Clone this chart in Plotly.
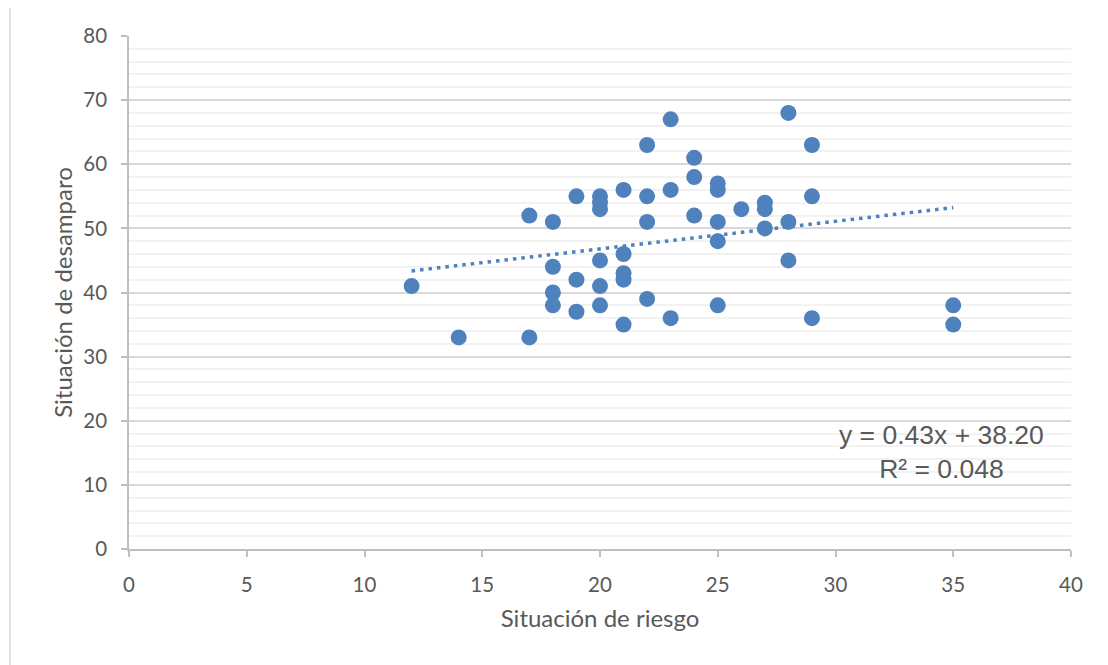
import numpy as np
import plotly.graph_objects as go

# Data
riesgo = [12, 14, 17, 17, 18, 18, 18, 18, 19, 19, 19,
          20, 20, 20, 20, 20, 20, 21, 21, 21, 21, 21,
          22, 22, 22, 22, 23, 23, 23, 24, 24, 24,
          25, 25, 25, 25, 25, 26, 27, 27, 27, 28, 28, 28,
          29, 29, 29, 35, 35]
desamparo = [41, 33, 52, 33, 51, 44, 40, 38, 55, 42, 37,
             55, 54, 53, 45, 41, 38, 56, 46, 43, 42, 35,
             63, 55, 51, 39, 67, 56, 36, 61, 58, 52,
             57, 56, 51, 48, 38, 53, 54, 53, 50, 68, 51, 45,
             63, 55, 36, 38, 35]

slope = 0.43
intercept = 38.20
r2 = 0.048

x_title = "Situación de riesgo"
y_title = "Situación de desamparo"

color = "#4f81bd"

fig = go.Figure()

tx = np.array([min(riesgo), max(riesgo)], dtype=float)
fig.add_trace(go.Scatter(
    x=tx, y=slope * tx + intercept, mode="lines",
    line=dict(color=color, width=3.5, dash="3.5px,5px"),
    hoverinfo="skip", showlegend=False))

fig.add_trace(go.Scatter(
    x=riesgo, y=desamparo, mode="markers",
    marker=dict(color=color, size=16, line=dict(width=0)),
    showlegend=False))

fig.add_annotation(
    x=34.5, y=15.2, xref="x", yref="y",
    text=f"y = {slope:.2f}x + {intercept:.2f}<br>R² = {r2:.3f}",
    showarrow=False, align="center",
    font=dict(family="Liberation Sans, Arial", size=26.5, color="#595959"))

# chart border
fig.add_shape(type="rect", xref="paper", yref="paper",
              x0=(10 - 129) / 942, x1=(1125 - 129) / 942,
              y0=(549 - 680) / 513, y1=(549 - 6) / 513,
              line=dict(color="#d9d9d9", width=1.5), fillcolor="rgba(0,0,0,0)",
              layer="below")

axis_font = dict(family="Lato, Calibri, sans-serif", size=20.5, color="#595959")
title_font = dict(family="Lato, Calibri, sans-serif", size=24, color="#595959")

fig.update_layout(
    width=1100, height=657,
    margin=dict(l=121, r=37, t=28, b=116),
    paper_bgcolor="white", plot_bgcolor="white",
    font=axis_font,
    xaxis=dict(
        range=[0, 40], dtick=5, tick0=0,
        showgrid=False, zeroline=False,
        showline=True, linecolor="#bfbfbf", linewidth=1.5,
        ticks="outside", ticklen=6, tickcolor="#bfbfbf", tickwidth=1.5,
        ticklabelstandoff=11,
        tickfont=axis_font,
        title=dict(text=x_title, font=title_font, standoff=15),
    ),
    yaxis=dict(
        range=[0, 80], dtick=10, tick0=0,
        showgrid=True, gridcolor="#d9d9d9", gridwidth=1.5,
        minor=dict(dtick=2, showgrid=True, gridcolor="#f2f2f2", gridwidth=1.5, ticks=""),
        zeroline=False,
        showline=True, linecolor="#bfbfbf", linewidth=1.5,
        ticks="outside", ticklen=6, tickcolor="#bfbfbf", tickwidth=1.5,
        ticklabelstandoff=10,
        tickfont=axis_font,
        title=dict(text=y_title, font=title_font, standoff=4),
    ),
)

fig.write_html("out.html")
